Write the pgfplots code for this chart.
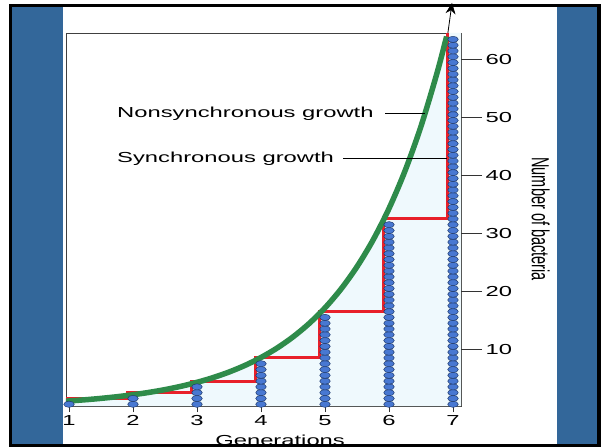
\documentclass[border=0pt]{standalone}
\usepackage{fontspec}
\setmainfont{Liberation Sans}[FakeStretch=1.64]
\newfontfamily\plainfont{Liberation Sans}
\usepackage{graphicx}
\usepackage{pgfplots}
\pgfplotsset{compat=1.18}
\usetikzlibrary{arrows.meta}

\definecolor{sidebar}{HTML}{33679A}
\definecolor{cellblue}{HTML}{4878D2}
\definecolor{celledge}{HTML}{1B3566}
\definecolor{stepred}{HTML}{E8202A}
\definecolor{growgreen}{HTML}{2E8B4A}
\definecolor{underfill}{HTML}{EFF9FD}

\pgfplotsset{
  cells/.style={only marks, mark=*, mark size=3.1pt,
    mark options={xscale=1.7, fill=cellblue, draw=celledge, line width=0.45pt}},
  frame/.style={at={(66pt,41pt)}, anchor=south west,
    width=395pt, height=373pt, scale only axis,
    xmin=0.953, xmax=7.125, ymin=0.2, ymax=64.6,
    tick align=outside,
    tick style={black!80, line width=0.6pt},
    ticklabel style={font=\fontsize{14.5}{16}\selectfont},
    /pgf/number format/assume math mode=true},
}

\begin{document}
\begin{tikzpicture}
\useasboundingbox (0,0) rectangle (602pt,447pt);
\clip (0,0) rectangle (602pt,447pt);
% slide frame
\fill[white] (0,0) rectangle (602pt,447pt);
\fill[black] (9pt,0pt) rectangle (601pt,443pt);
\fill[white] (12pt,3pt) rectangle (597pt,440pt);
\fill[sidebar] (12pt,3pt) rectangle (63pt,440pt);
\fill[sidebar] (557pt,3pt) rectangle (597pt,440pt);

\begin{axis}[
    frame,
    xtick={1,...,7}, ytick=\empty,
    xtick pos=bottom,
    major tick length=6pt,
    axis line style={black!75, line width=0.8pt},
    clip=false,
]
% area under the nonsynchronous curve
\addplot[fill=underfill, draw=none] coordinates {
    (0.953,0.2) (0.953,1.037) (1.25,1.274) (1.5,1.516) (1.75,1.803) (2,2.144)
    (2.25,2.549) (2.5,3.031) (2.75,3.605) (3,4.287) (3.25,5.098) (3.5,6.063)
    (3.75,7.210) (4,8.574) (4.25,10.196) (4.5,12.126) (4.75,14.420) (5,17.148)
    (5.25,20.393) (5.5,24.251) (5.75,28.840) (6,34.297) (6.25,40.786)
    (6.5,48.503) (6.75,57.68) (6.9,64.0) (6.92,64.6) (7.125,64.6) (7.125,0.2)
} -- cycle;

% cells at each generation
\addplot[cells] coordinates {(1,0.5)};
\addplot[cells] coordinates {(2,0.5) (2,1.5)};
\addplot[cells] coordinates {(3,0.5) (3,1.5) (3,2.5) (3,3.5)};
\addplot[cells] coordinates {(4,0.5) (4,1.5) (4,2.5) (4,3.5) (4,4.5) (4,5.5) (4,6.5) (4,7.5)};
\addplot[cells] coordinates {
    (5,0.5) (5,1.5) (5,2.5) (5,3.5) (5,4.5) (5,5.5) (5,6.5) (5,7.5)
    (5,8.5) (5,9.5) (5,10.5) (5,11.5) (5,12.5) (5,13.5) (5,14.5) (5,15.5)};
\addplot[cells] coordinates {
    (6,0.5) (6,1.5) (6,2.5) (6,3.5) (6,4.5) (6,5.5) (6,6.5) (6,7.5)
    (6,8.5) (6,9.5) (6,10.5) (6,11.5) (6,12.5) (6,13.5) (6,14.5) (6,15.5)
    (6,16.5) (6,17.5) (6,18.5) (6,19.5) (6,20.5) (6,21.5) (6,22.5) (6,23.5)
    (6,24.5) (6,25.5) (6,26.5) (6,27.5) (6,28.5) (6,29.5) (6,30.5) (6,31.5)};
\addplot[cells] coordinates {
    (7,0.5) (7,1.5) (7,2.5) (7,3.5) (7,4.5) (7,5.5) (7,6.5) (7,7.5)
    (7,8.5) (7,9.5) (7,10.5) (7,11.5) (7,12.5) (7,13.5) (7,14.5) (7,15.5)
    (7,16.5) (7,17.5) (7,18.5) (7,19.5) (7,20.5) (7,21.5) (7,22.5) (7,23.5)
    (7,24.5) (7,25.5) (7,26.5) (7,27.5) (7,28.5) (7,29.5) (7,30.5) (7,31.5)
    (7,32.5) (7,33.5) (7,34.5) (7,35.5) (7,36.5) (7,37.5) (7,38.5) (7,39.5)
    (7,40.5) (7,41.5) (7,42.5) (7,43.5) (7,44.5) (7,45.5) (7,46.5) (7,47.5)
    (7,48.5) (7,49.5) (7,50.5) (7,51.5) (7,52.5) (7,53.5) (7,54.5) (7,55.5)
    (7,56.5) (7,57.5) (7,58.5) (7,59.5) (7,60.5) (7,61.5) (7,62.5) (7,63.5)};

% synchronous growth (steps)
\addplot[const plot, stepred, line width=3pt] coordinates {
    (0.953,1.5) (1.92,2.5) (2.92,4.5) (3.92,8.5) (4.92,16.5) (5.92,32.5) (6.92,64.6)};

% nonsynchronous growth
\addplot[smooth, growgreen, line width=5.5pt] coordinates {
    (0.953,1.037) (1.25,1.274) (1.5,1.516) (1.75,1.803) (2,2.144)
    (2.25,2.549) (2.5,3.031) (2.75,3.605) (3,4.287) (3.25,5.098) (3.5,6.063)
    (3.75,7.210) (4,8.574) (4.25,10.196) (4.5,12.126) (4.75,14.420) (5,17.148)
    (5.25,20.393) (5.5,24.251) (5.75,28.840) (6,34.297) (6.25,40.786)
    (6.5,48.503) (6.75,57.68) (6.9,64.0)};

% arrow continuing the curve
\addplot[black, line width=0.8pt, -{Stealth[length=11pt,width=10pt]}] coordinates {(6.92,64.6) (6.985,69.8)};

\node[rotate=-90, font=\plainfont\fontsize{14.5}{16}\selectfont]
    at (axis description cs:1.202,0.501) {\scalebox{1}[1.7]{Number of bacteria}};
\node[anchor=base, font=\fontsize{14.5}{16}\selectfont, yshift=-39pt]
    at (axis description cs:0.542,0) {Generations};
\end{axis}

% right-hand count axis with long outward ticks
\begin{axis}[
    frame,
    hide x axis, axis y line*=right,
    ytick={10,20,...,60},
    major tick length=21pt,
    axis line style={draw=none},
]
\end{axis}

% labels with leader lines
\node[anchor=base west, inner sep=0pt, font=\fontsize{14.5}{16}\selectfont] at (117pt,329pt) {Nonsynchronous growth};
\draw[black, line width=0.7pt] (385pt,334pt) -- (425pt,334pt);
\node[anchor=base west, inner sep=0pt, font=\fontsize{14.5}{16}\selectfont] at (117pt,284pt) {Synchronous growth};
\draw[black, line width=0.7pt] (343pt,289pt) -- (447pt,289pt);

% frame edges drawn over the picture
\fill[black] (9pt,0pt) rectangle (601pt,3pt);
\fill[black] (9pt,440pt) rectangle (601pt,443pt);
\end{tikzpicture}
\end{document}
